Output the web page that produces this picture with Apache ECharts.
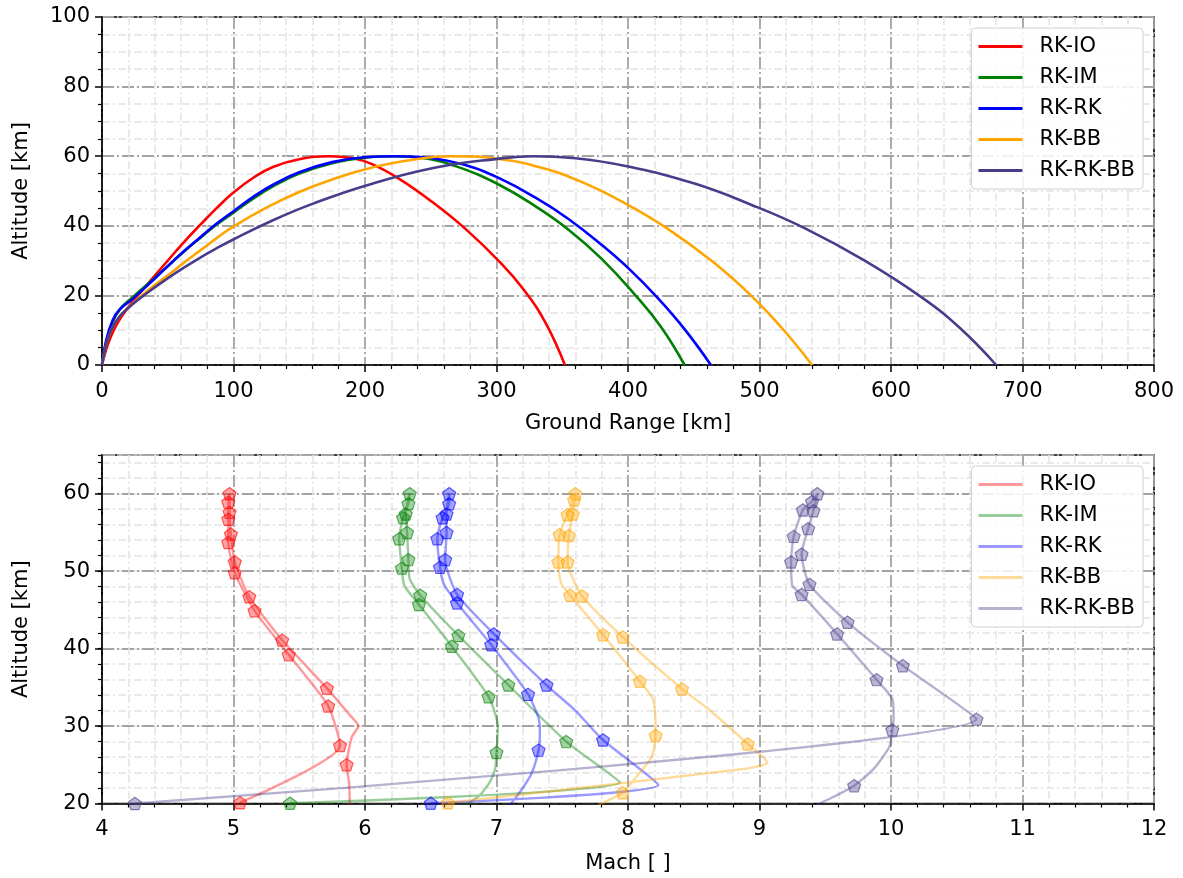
<!DOCTYPE html>
<html>
<head>
<meta charset="utf-8">
<script src="https://cdn.jsdelivr.net/npm/echarts@6/dist/echarts.min.js"></script>
<style>
html,body{margin:0;padding:0;background:#fff}
#main{width:1183px;height:878px}
</style>
</head>
<body>
<div id="main"></div>
<script>
// names + colours of the five configurations
const seriesNames = ['RK-IO', 'RK-IM', 'RK-RK', 'RK-BB', 'RK-RK-BB']
const rgb = [[255, 0, 0], [0, 128, 0], [0, 0, 255], [255, 165, 0], [72, 61, 139]]

// top: [ground range km, altitude km]
const ioTrack = [[0,0],[3,4.2],[6,7.5],[10,10.8],[15,14],[22,17.6],[30,21.2],[40,25.6],[50,30],[62,35.2],[75,40.4],[87,45],[99.5,49.4],[115,53.8],[130,56.9],[150,59.1],[173,60],[190,59.5],[205,57.8],[226,53.5],[252,46.6],[277,38.9],[302,29.8],[320,22],[337,12.3],[352,0]]
const imTrack = [[0,0],[3,6.2],[8,12.3],[14,16.2],[23.4,19.5],[40,25],[50,28.4],[62,32.5],[75,36.6],[87,40.3],[100,43.8],[115,47.8],[130,51.3],[150,55],[175,58],[200,59.6],[222,60],[245,59.4],[270,57],[302,51.8],[330,45.5],[355,38.8],[380,30.5],[405,20.3],[425,11],[443,0]]
const rkTrack = [[0,0],[3.2,7.2],[8.2,12.9],[13.3,15.9],[23.4,19],[40,24.8],[50,28.4],[62,32.6],[75,36.8],[87,40.6],[100,44.2],[115,48.3],[130,51.8],[150,55.4],[175,58.3],[200,59.7],[225,60],[250,59.5],[275,57.6],[302,53.7],[330,48],[355,41.9],[380,34.5],[402,27.2],[422,19.5],[443,10.3],[463,0]]
const bbTrack = [[0,0],[3,5.5],[7,10],[13.3,13.9],[23.4,17.7],[35,21.5],[48.8,25.4],[62,29.3],[75,33],[87,36.4],[99.5,39.7],[125,45.2],[150,49.7],[175,53.3],[201,56.3],[230,58.6],[265,60],[302,59.2],[335,56.6],[366,52.4],[400,46],[430,39.2],[465,29.5],[494,19.8],[518,10.2],[540,0]]
const rrbTrack = [[0,0],[3,5.5],[7,10],[13.3,13.9],[23.4,17.5],[35,20.9],[48.8,24.6],[62,27.9],[75,30.9],[87,33.5],[99.5,36],[130,41.6],[160,46.3],[201,51.6],[252,56.6],[302,59.3],[328,60],[360,59.4],[398,57.2],[450,52.2],[494,46],[535,39.2],[580,30],[622,19.8],[652,10.8],[680,0]]

// bottom: [mach, altitude km], ascent then descent
const ioMach = [[5.05,20.1],[5.81,27.5],[5.72,32.6],[5.42,39.2],[5.16,44.9],[5.01,49.8],[4.96,53.7],[4.96,56.7],[4.96,58.9],[4.97,60],[4.97,57.6],[4.98,54.8],[5.01,51.2],[5.12,46.7],[5.37,41.1],[5.71,34.9],[5.88,31.5],[5.95,30],[5.9,28.6],[5.86,25],[5.88,22.5],[5.885,18]]
const imMach = [[5.43,20.05],[7.94,22.7],[7.53,28],[7.09,35.3],[6.71,41.7],[6.42,46.9],[6.34,49],[6.33,51.5],[6.32,55],[6.31,57.4],[6.34,60],[6.33,58.7],[6.29,56.9],[6.26,54.2],[6.28,50.4],[6.3,48.1],[6.41,45.7],[6.66,40.3],[6.94,33.8],[7.01,30],[7,26.6],[6.99,24.5],[6.95,22.8],[6.87,21],[6.78,20],[6.7,19.3]]
const rkMach = [[6.5,20.05],[8.23,22.4],[7.81,28.2],[7.6,32],[7.38,35.3],[6.98,41.9],[6.7,47],[6.61,51.5],[6.62,55],[6.62,57.4],[6.64,60],[6.64,58.7],[6.59,56.9],[6.55,54.2],[6.57,50.5],[6.6,48.3],[6.7,45.9],[6.96,40.5],[7.24,34.1],[7.32,31],[7.33,29],[7.32,26.9],[7.27,24],[7.2,22],[7.12,20.2],[7.05,19]]
const bbMach = [[6.63,20.1],[8.9,24.5],[9.06,25.3],[8.91,27.7],[8.61,32.2],[8.41,34.8],[7.96,41.5],[7.65,46.8],[7.54,51.2],[7.55,54.6],[7.58,57.4],[7.6,60],[7.59,59.2],[7.54,57.3],[7.48,54.7],[7.47,51.2],[7.49,48.5],[7.56,46.9],[7.81,41.8],[8.09,35.8],[8.19,33.5],[8.21,30.5],[8.21,28.8],[8.18,26],[8.09,24],[7.96,21.4],[7.8,20],[7.7,19.2]]
const rrbMach = [[4.25,20],[10.65,30.9],[10.09,37.8],[9.67,43.4],[9.38,48.3],[9.32,52.2],[9.37,55.5],[9.41,57.8],[9.44,60],[9.4,59],[9.33,57.9],[9.26,54.5],[9.24,51.2],[9.25,48.1],[9.32,47],[9.59,41.9],[9.89,36],[10.01,33.5],[10.02,31],[10.01,29.5],[9.99,27.4],[9.87,24.5],[9.72,22.3],[9.58,21],[9.47,20.1],[9.4,19.5]]

// pentagon markers along each bottom curve
const ioMarks = [[5.05,20.1],[5.81,27.5],[5.72,32.6],[5.42,39.2],[5.16,44.9],[5.01,49.8],[4.96,53.7],[4.96,56.7],[4.96,58.9],[4.97,60],[4.97,57.6],[4.98,54.8],[5.01,51.2],[5.12,46.7],[5.37,41.1],[5.71,34.9],[5.86,25]]
const imMarks = [[5.43,20.05],[7.53,28],[7.09,35.3],[6.71,41.7],[6.42,46.9],[6.33,51.5],[6.32,55],[6.31,57.4],[6.34,60],[6.33,58.7],[6.29,56.9],[6.26,54.2],[6.28,50.4],[6.41,45.7],[6.66,40.3],[6.94,33.8],[7,26.6]]
const rkMarks = [[6.5,20.05],[7.81,28.2],[7.38,35.3],[6.98,41.9],[6.7,47],[6.61,51.5],[6.62,55],[6.62,57.4],[6.64,60],[6.64,58.7],[6.59,56.9],[6.55,54.2],[6.57,50.5],[6.7,45.9],[6.96,40.5],[7.24,34.1],[7.32,26.9]]
const bbMarks = [[6.63,20.1],[8.91,27.7],[8.41,34.8],[7.96,41.5],[7.65,46.8],[7.54,51.2],[7.55,54.6],[7.58,57.4],[7.6,60],[7.59,59.2],[7.54,57.3],[7.48,54.7],[7.47,51.2],[7.56,46.9],[7.81,41.8],[8.09,35.8],[8.21,28.8],[7.96,21.4]]
const rrbMarks = [[4.25,20],[10.65,30.9],[10.09,37.8],[9.67,43.4],[9.38,48.3],[9.32,52.2],[9.37,55.5],[9.41,57.8],[9.44,60],[9.4,59],[9.33,57.9],[9.26,54.5],[9.24,51.2],[9.32,47],[9.59,41.9],[9.89,36],[10.01,29.5],[9.72,22.3]]

const tracks = [ioTrack, imTrack, rkTrack, bbTrack, rrbTrack]
const machPaths = [ioMach, imMach, rkMach, bbMach, rrbMach]
const machMarks = [ioMarks, imMarks, rkMarks, bbMarks, rrbMarks]

const FONT = 'DejaVu Sans'
const pentagon = 'path://M50,0 L97.55,34.55 L79.39,90.45 L20.61,90.45 L2.45,34.55 Z'
const rgba = (i, a) => `rgba(${rgb[i][0]},${rgb[i][1]},${rgb[i][2]},${a})`

const majorGrid = {show: true, lineStyle: {color: '#a3a3a3', width: 1.8, type: [12, 3, 2, 3]}}
const minorGrid = {show: true, lineStyle: {color: '#e3e3e3', width: 1.5, type: [8, 3, 2, 3]}}
const labelStyle = {fontSize: 21, color: '#000', fontFamily: FONT}

const axisBase = (extra) => Object.assign({
  type: 'value',
  nameLocation: 'middle',
  nameTextStyle: labelStyle,
  axisLine: {show: true, onZero: false, lineStyle: {color: '#000', width: 1.6}},
  axisTick: {show: true, length: 7, lineStyle: {color: '#000', width: 1.5}},
  axisLabel: Object.assign({margin: 16}, labelStyle),
  splitLine: majorGrid
}, extra)

const chart = echarts.init(document.getElementById('main'), null, {renderer: 'canvas'})

const series = []
tracks.forEach((d, i) => {
  series.push({
    name: seriesNames[i], type: 'line', xAxisIndex: 0, yAxisIndex: 0,
    data: d, smooth: 0.45, symbol: 'none', z: 3,
    lineStyle: {color: rgba(i, 1), width: 2.6}, itemStyle: {color: rgba(i, 1)}
  })
})
machPaths.forEach((d, i) => {
  series.push({
    name: seriesNames[i], type: 'line', xAxisIndex: 1, yAxisIndex: 2,
    data: d, smooth: 0.2, symbol: 'none', z: 3,
    lineStyle: {color: rgba(i, 0.4), width: 2.4}, itemStyle: {color: rgba(i, 0.4)}
  })
})
machMarks.forEach((d, i) => {
  series.push({
    name: 'mk' + i, type: 'scatter', xAxisIndex: 1, yAxisIndex: 2,
    data: d, symbol: pentagon, symbolKeepAspect: true, symbolSize: 13, z: 4,
    itemStyle: {color: rgba(i, 0.45), borderColor: rgba(i, 0.75), borderWidth: 1.2}
  })
})

const legendBase = {
  orient: 'vertical', right: 40, selectedMode: false,
  icon: 'rect', itemWidth: 44, itemHeight: 3, itemGap: 10,
  padding: [8, 8, 8, 7],
  backgroundColor: 'rgba(255,255,255,0.85)', borderColor: '#d0d0d0', borderWidth: 1, borderRadius: 4,
  textStyle: {fontSize: 21, color: '#000', fontFamily: FONT, padding: [0, 0, 0, 12]}
}

chart.setOption({
  animation: false,
  backgroundColor: '#fff',
  grid: [
    {left: 102, right: 29, top: 17, height: 348, show: true, borderColor: '#000', borderWidth: 1.6},
    {left: 102, right: 29, top: 455, height: 348.5, show: true, borderColor: '#000', borderWidth: 1.6}
  ],
  xAxis: [
    axisBase({gridIndex: 0, min: 0, max: 800, interval: 100, name: 'Ground Range [km]', nameGap: 48,
      minorTick: {show: true, splitNumber: 5, length: 4, lineStyle: {color: '#000', width: 1.2}},
      minorSplitLine: minorGrid}),
    axisBase({gridIndex: 1, min: 4, max: 12, interval: 1, name: 'Mach [ ]', nameGap: 50,
      minorTick: {show: true, splitNumber: 5, length: 4, lineStyle: {color: '#000', width: 1.2}},
      minorSplitLine: minorGrid})
  ],
  yAxis: [
    axisBase({gridIndex: 0, min: 0, max: 100, interval: 20, name: 'Altitude [km]', nameGap: 70,
      axisLabel: Object.assign({margin: 12}, labelStyle),
      minorTick: {show: true, splitNumber: 4, length: 4, lineStyle: {color: '#000', width: 1.2}},
      minorSplitLine: minorGrid}),
    // fine 2 km grid for the lower panel
    {type: 'value', gridIndex: 1, min: 20, max: 65, interval: 2, position: 'left',
      axisLine: {show: false}, axisLabel: {show: false},
      axisTick: {show: true, length: 4, lineStyle: {color: '#000', width: 1.2}},
      splitLine: minorGrid},
    axisBase({gridIndex: 1, min: 20, max: 65, interval: 10, name: 'Altitude [km]', nameGap: 70, position: 'left',
      axisLabel: Object.assign({margin: 12, showMaxLabel: false}, labelStyle)})
  ],
  legend: [
    Object.assign({}, legendBase, {top: 28, data: seriesNames.slice()}),
    Object.assign({}, legendBase, {top: 466,
      data: seriesNames.map((n, i) => ({name: n, itemStyle: {color: rgba(i, 0.4)}}))})
  ],
  series: series
})
</script>
</body>
</html>
